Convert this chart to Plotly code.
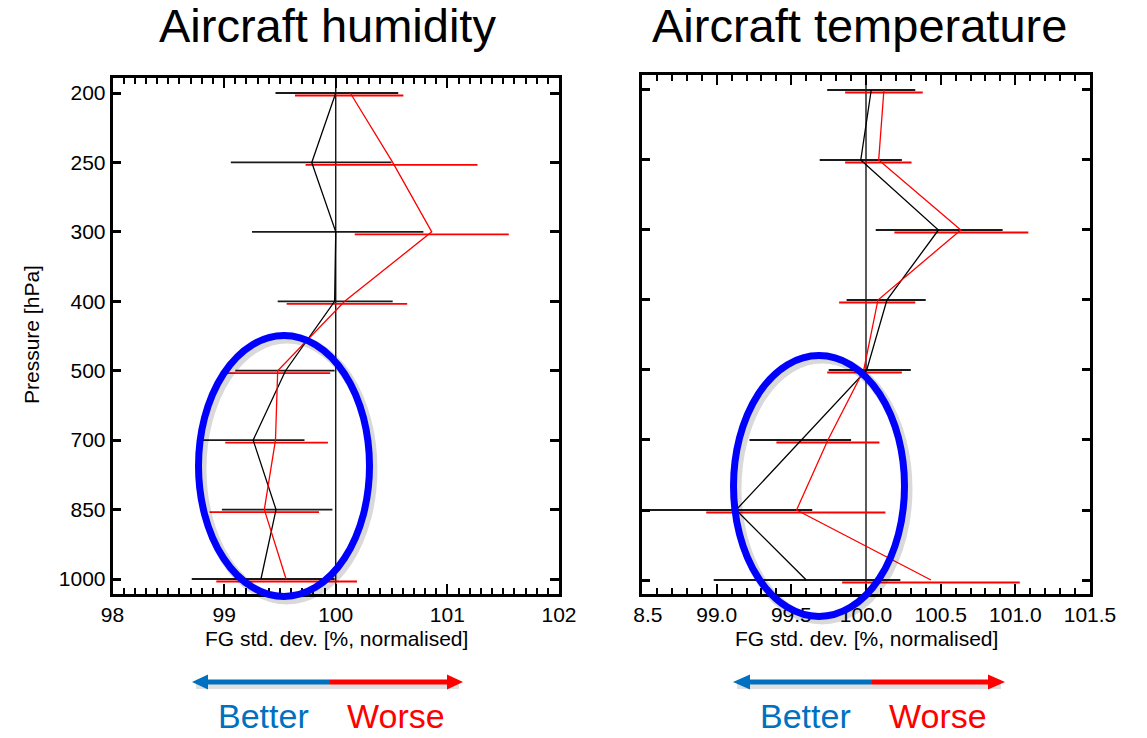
import plotly.graph_objects as go

W, H = 1147, 738

# ---------------- data ----------------
pressure_labels = ["200", "250", "300", "400", "500", "700", "850", "1000"]

hum_black = [100.00, 99.785, 100.00, 99.99, 99.55, 99.26, 99.465, 99.33]
hum_black_lo = [99.46, 99.06, 99.25, 99.48, 99.10, 98.81, 98.98, 98.71]
hum_black_hi = [100.56, 100.50, 100.785, 100.51, 99.99, 99.72, 99.97, 99.99]

hum_red = [100.13, 100.51, 100.86, 100.08, 99.48, 99.46, 99.36, 99.555]
hum_red_lo = [99.635, 99.73, 100.17, 99.56, 99.02, 99.01, 98.87, 98.93]
hum_red_hi = [100.606, 101.27, 101.55, 100.64, 99.95, 99.93, 99.85, 100.19]

tmp_black = [100.035, 99.965, 100.485, 100.14, 100.005, 99.565, 99.13, 99.60]
tmp_black_lo = [99.74, 99.69, 100.065, 99.87, 99.75, 99.22, 98.52, 98.98]
tmp_black_hi = [100.33, 100.24, 100.915, 100.40, 100.30, 99.90, 99.64, 100.23]

tmp_red = [100.12, 100.085, 100.635, 100.08, 99.985, 99.745, 99.535, 100.435]
tmp_red_lo = [99.86, 99.86, 100.19, 99.82, 99.74, 99.40, 98.93, 99.84]
tmp_red_hi = [100.38, 100.305, 101.087, 100.33, 100.24, 100.09, 100.13, 101.03]

hum_ticks = [98, 99, 100, 101, 102]
tmp_ticks = [98.5, 99.0, 99.5, 100.0, 100.5, 101.0, 101.5]

panel_titles = ["Aircraft humidity", "Aircraft temperature"]
x_title = "FG std. dev. [%, normalised]"
y_title = "Pressure [hPa]"
better_txt, worse_txt = "Better", "Worse"

# ---------------- helpers ----------------
def px(x):
    return x / W


def py(y):
    return 1 - y / H


FONT = "Arial, Liberation Sans, Helvetica, sans-serif"
BLACK_ERR = "#1a1a1a"
RED = "#ff0000"
BLUE_TXT = "#0070C0"
ELL_BLUE = "#0000ff"

idx = list(range(len(pressure_labels)))
red_off = 0.036  # red error bars drawn slightly below

fig = go.Figure()


def add_panel(xa, ya, black, blo, bhi, red, rlo, rhi):
    # error bars (no caps)
    fig.add_trace(go.Scatter(
        x=black, y=idx, mode="markers", marker=dict(size=0.1, color=BLACK_ERR),
        error_x=dict(type="data", symmetric=False,
                     array=[h - c for h, c in zip(bhi, black)],
                     arrayminus=[c - l for c, l in zip(black, blo)],
                     width=0, thickness=1.8, color=BLACK_ERR),
        xaxis=xa, yaxis=ya, showlegend=False, hoverinfo="skip"))
    fig.add_trace(go.Scatter(
        x=red, y=[i + red_off for i in idx], mode="markers",
        marker=dict(size=0.1, color=RED),
        error_x=dict(type="data", symmetric=False,
                     array=[h - c for h, c in zip(rhi, red)],
                     arrayminus=[c - l for c, l in zip(red, rlo)],
                     width=0, thickness=1.8, color=RED),
        xaxis=xa, yaxis=ya, showlegend=False, hoverinfo="skip"))
    # profile lines
    fig.add_trace(go.Scatter(x=black, y=idx, mode="lines",
                             line=dict(color="black", width=1.3),
                             xaxis=xa, yaxis=ya, showlegend=False))
    fig.add_trace(go.Scatter(x=red, y=idx, mode="lines",
                             line=dict(color=RED, width=1.3),
                             xaxis=xa, yaxis=ya, showlegend=False))


add_panel("x", "y", hum_black, hum_black_lo, hum_black_hi,
          hum_red, hum_red_lo, hum_red_hi)
add_panel("x2", "y2", tmp_black, tmp_black_lo, tmp_black_hi,
          tmp_red, tmp_red_lo, tmp_red_hi)

axis_common = dict(showline=True, linecolor="black", linewidth=2.5, mirror="allticks",
                   ticks="inside", tickcolor="black", showgrid=False, zeroline=False,
                   automargin=False, tickfont=dict(family=FONT, size=21, color="black"))

fig.update_layout(
    width=W, height=H, margin=dict(l=0, r=0, t=0, b=0),
    paper_bgcolor="white", plot_bgcolor="white",
    xaxis=dict(domain=[px(112.5), px(559)], range=[98, 102],
               tickvals=hum_ticks, ticktext=[str(t) for t in hum_ticks],
               ticklen=10, tickwidth=2,
               minor=dict(dtick=0.1, tick0=98, ticklen=6, tickwidth=2,
                          ticks="inside", tickcolor="black", showgrid=False),
               anchor="y", **axis_common),
    yaxis=dict(domain=[py(594), py(78)], range=[7.216, -0.216],
               tickvals=idx, ticktext=pressure_labels, ticklen=9, tickwidth=3,
               anchor="x", **axis_common),
    xaxis2=dict(domain=[px(642), px(1090)], range=[98.5, 101.5],
                tickvals=tmp_ticks, ticktext=[f"{t:.1f}" for t in tmp_ticks],
                ticklen=10, tickwidth=2,
                minor=dict(dtick=0.1, tick0=98.5, ticklen=6, tickwidth=2,
                           ticks="inside", tickcolor="black", showgrid=False),
                anchor="y2", **axis_common),
    yaxis2=dict(domain=[py(594), py(75)], range=[7.2, -0.214],
                tickvals=idx, ticktext=pressure_labels, ticklen=8, tickwidth=3,
                showticklabels=False, anchor="x2", **axis_common),
)

shapes = []
# vertical reference lines at 100
for xa, ya in (("x", "y"), ("x2", "y2")):
    shapes.append(dict(type="line", xref=xa, yref=f"{ya} domain", x0=100, x1=100,
                       y0=0, y1=1, line=dict(color="black", width=1.3), layer="below"))

# hide the leading "9" of the clipped first tick label on the right panel
shapes.append(dict(type="rect", xref="paper", yref="paper",
                   x0=px(612), x1=px(633.5), y0=py(632), y1=py(600),
                   fillcolor="white", line=dict(width=0), layer="above"))

# ellipses with soft shadow
for (x0, x1, y0, y1) in ((198.5, 369.5, 335.5, 596.5), (733.5, 904.5, 355.5, 616.5)):
    shapes.append(dict(type="circle", xref="paper", yref="paper",
                       x0=px(x0 + 3), x1=px(x1 + 3), y0=py(y1 + 3), y1=py(y0 + 3),
                       line=dict(color="rgba(0,0,0,0.15)", width=10), layer="above"))
    shapes.append(dict(type="circle", xref="paper", yref="paper",
                       x0=px(x0), x1=px(x1), y0=py(y1), y1=py(y0),
                       line=dict(color=ELL_BLUE, width=7), layer="above"))

# Better / Worse arrows
for (tipL, baseL, mid, baseR, tipR) in ((192, 208, 330, 447, 463), (733, 750, 872, 988, 1005)):
    yc = 682
    shapes.append(dict(type="line", xref="paper", yref="paper",
                       x0=px(tipL + 4), x1=px(tipR - 4), y0=py(yc + 4), y1=py(yc + 4),
                       line=dict(color="rgba(0,0,0,0.12)", width=6)))
    shapes.append(dict(type="line", xref="paper", yref="paper",
                       x0=px(baseL - 1), x1=px(mid), y0=py(yc), y1=py(yc),
                       line=dict(color=BLUE_TXT, width=5)))
    shapes.append(dict(type="line", xref="paper", yref="paper",
                       x0=px(mid), x1=px(baseR + 1), y0=py(yc), y1=py(yc),
                       line=dict(color=RED, width=5)))
    shapes.append(dict(type="path", xref="paper", yref="paper",
                       path=f"M {px(tipL)},{py(yc)} L {px(baseL)},{py(yc - 7.5)} "
                            f"L {px(baseL)},{py(yc + 7.5)} Z",
                       fillcolor=BLUE_TXT, line=dict(width=0)))
    shapes.append(dict(type="path", xref="paper", yref="paper",
                       path=f"M {px(tipR)},{py(yc)} L {px(baseR)},{py(yc - 7.5)} "
                            f"L {px(baseR)},{py(yc + 7.5)} Z",
                       fillcolor=RED, line=dict(width=0)))

fig.update_layout(shapes=shapes)

ann = []
# panel titles
for t, cx in zip(panel_titles, (327, 859)):
    ann.append(dict(text=t, x=px(cx), y=py(26), xref="paper", yref="paper",
                    xanchor="center", yanchor="middle", showarrow=False,
                    font=dict(family=FONT, size=47, color="black")))
# x-axis titles
for cx in (336, 866):
    ann.append(dict(text=x_title, x=px(cx), y=py(638), xref="paper", yref="paper",
                    xanchor="center", yanchor="middle", showarrow=False,
                    font=dict(family=FONT, size=21, color="black")))
# y-axis title
ann.append(dict(text=y_title, x=px(31), y=py(335), xref="paper", yref="paper",
                xanchor="center", yanchor="middle", showarrow=False, textangle=-90,
                font=dict(family=FONT, size=21, color="black")))
# Better / Worse
for cxb, cxw in ((263, 396), (805, 938)):
    ann.append(dict(text=better_txt, x=px(cxb), y=py(716), xref="paper", yref="paper",
                    xanchor="center", yanchor="middle", showarrow=False,
                    font=dict(family=FONT, size=34, color=BLUE_TXT)))
    ann.append(dict(text=worse_txt, x=px(cxw), y=py(716), xref="paper", yref="paper",
                    xanchor="center", yanchor="middle", showarrow=False,
                    font=dict(family=FONT, size=34, color=RED)))
fig.update_layout(annotations=ann)

fig.write_html("out.html")
